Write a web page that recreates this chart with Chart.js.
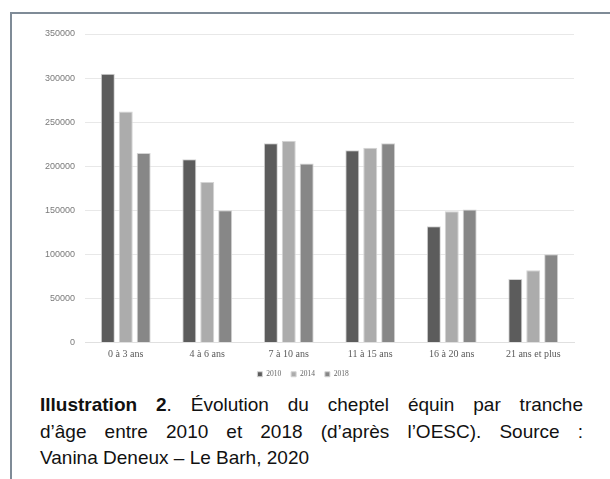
<!DOCTYPE html>
<html>
<head>
<meta charset="utf-8">
<script src="https://cdn.jsdelivr.net/npm/chart.js@4"></script>
<style>
    body { margin: 0; background: #fff; width: 610px; height: 479px; overflow: hidden; position: relative; }
    #frame { position: absolute; left: 10px; top: 12px; width: 620px; height: 480px;
             border-left: 2px solid #7f8b97; border-top: 2px solid #7f8b97; }
    #chart-wrap { position: absolute; left: 0; top: 0; width: 610px; height: 388px; }
    #caption { position: absolute; left: 40px; top: 392px; width: 543px;
               font-family: "Liberation Sans", Arial, sans-serif; font-size: 19px; line-height: 26.5px;
               color: #111; margin: 0; }
    #caption .j { text-align: justify; text-align-last: justify; }
</style>
</head>
<body>
<div id="frame"></div>
<div id="chart-wrap"><canvas id="chart"></canvas></div>
<div id="caption">
    <div class="j"><b>Illustration 2</b>. Évolution du cheptel équin par tranche</div>
    <div class="j">d’âge entre 2010 et 2018 (d’après l’OESC). Source :</div>
    <div>Vanina Deneux – Le Barh, 2020</div>
</div>
<script>
    // Data
    const categories = ['0 à 3 ans', '4 à 6 ans', '7 à 10 ans', '11 à 15 ans', '16 à 20 ans', '21 ans et plus'];
    const years = ['2010', '2014', '2018'];
    const values2010 = [305000, 208000, 226000, 218000, 132000, 72000];
    const values2014 = [262000, 182000, 229000, 221000, 149000, 82000];
    const values2018 = [215000, 150000, 203000, 226000, 151000, 100000];
    const colors = ['#5c5c5c', '#acacac', '#878787'];

    const ctx = document.getElementById('chart').getContext('2d');
    const series = [values2010, values2014, values2018];

    new Chart(ctx, {
        type: 'bar',
        data: {
            labels: categories,
            datasets: series.map((vals, i) => ({
                label: years[i],
                data: vals,
                backgroundColor: colors[i],
                borderColor: '#d4d4d4',
                borderWidth: 1,
                categoryPercentage: 0.66,
                barPercentage: 0.78
            }))
        },
        options: {
            responsive: true,
            maintainAspectRatio: false,
            animation: false,
            // left padding shifts the legend to the right like in the original
            layout: { padding: { left: 32, right: 36, top: 34, bottom: 0 } },
            plugins: {
                tooltip: { enabled: false },
                legend: {
                    position: 'bottom',
                    labels: {
                        boxWidth: 5,
                        boxHeight: 5,
                        padding: 10,
                        color: '#666',
                        font: { family: 'Liberation Serif', size: 7.5 }
                    }
                }
            },
            scales: {
                x: {
                    afterFit: scale => { scale.height = 18; },
                    grid: { display: false, drawTicks: false },
                    border: { color: '#e0e0e0' },
                    ticks: { color: '#595959', padding: 6, font: { family: 'Liberation Serif', size: 10 } }
                },
                y: {
                    min: 0,
                    max: 350000,
                    afterFit: scale => { scale.width = 53; },
                    border: { display: false },
                    grid: { color: '#e8e8e8', drawTicks: false },
                    ticks: {
                        stepSize: 50000,
                        padding: 10,
                        color: '#7a7a7a',
                        font: { family: 'Liberation Sans', size: 9 },
                        callback: v => String(v)
                    }
                }
            }
        }
    });
</script>
</body>
</html>
